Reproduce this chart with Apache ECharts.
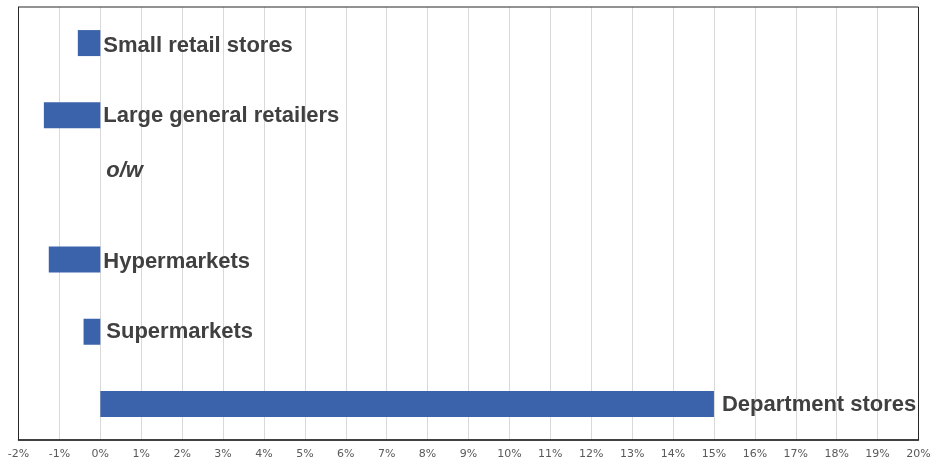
<!DOCTYPE html>
<html>
<head>
<meta charset="utf-8">
<script src="https://cdn.jsdelivr.net/npm/echarts@6/dist/echarts.min.js"></script>
<style>
  html, body { margin: 0; padding: 0; background: #fff; }
  #chart { width: 930px; height: 463px; }
</style>
</head>
<body>
<div id="chart"></div>
<script>
// categories and values (% change)
const categories = ['Small retail stores', 'Large general retailers', 'o/w', 'Hypermarkets', 'Supermarkets', 'Department stores'];
const values = [-0.55, -1.38, 0, -1.26, -0.41, 15.0];
const xTicks = { min: -2, max: 20, step: 1 };

// per-label tweaks (distance from bar end / vertical nudge)
const labelDist = [3, 3, 6, 3, 6, 8];
const labelNudge = [3, 1, -16, 2, 0, 1];

const myChart = echarts.init(document.getElementById('chart'));
const option = {
  animation: false,
  grid: {
    left: 18.5, right: 11.5, top: 7, bottom: 23,
    outerBoundsMode: 'none',
    containLabel: false,
    show: true, borderColor: '#262626', borderWidth: 1,
    z: 3
  },
  xAxis: {
    type: 'value',
    min: xTicks.min, max: xTicks.max, interval: xTicks.step,
    axisLine: { show: true, onZero: false, lineStyle: { color: '#262626', width: 1.5 } },
    axisTick: { show: false },
    axisLabel: {
      formatter: v => v + '%',
      color: '#595959', fontFamily: 'DejaVu Sans', fontSize: 11, margin: 9
    },
    splitLine: { show: true, lineStyle: { color: '#d9d9d9', width: 1 } }
  },
  yAxis: {
    type: 'category',
    data: categories,
    inverse: true,
    axisLine: { show: true, onZero: false, lineStyle: { color: '#262626', width: 1 } },
    axisTick: { show: false },
    axisLabel: { show: false },
    splitLine: { show: false }
  },
  series: [
    {
      name: 'change',
      type: 'bar',
      barWidth: 26,
      itemStyle: { color: '#3b63ab' },
      data: values.map((v, i) => ({
        value: v,
        label: {
          show: true,
          position: 'right',
          distance: labelDist[i],
          offset: [0, labelNudge[i]],
          formatter: '{b}',
          fontFamily: 'Liberation Sans',
          fontWeight: 'bold',
          fontStyle: categories[i] === 'o/w' ? 'italic' : 'normal',
          fontSize: 22,
          color: '#404040'
        }
      }))
    }
  ]
};
myChart.setOption(option);
</script>
</body>
</html>
